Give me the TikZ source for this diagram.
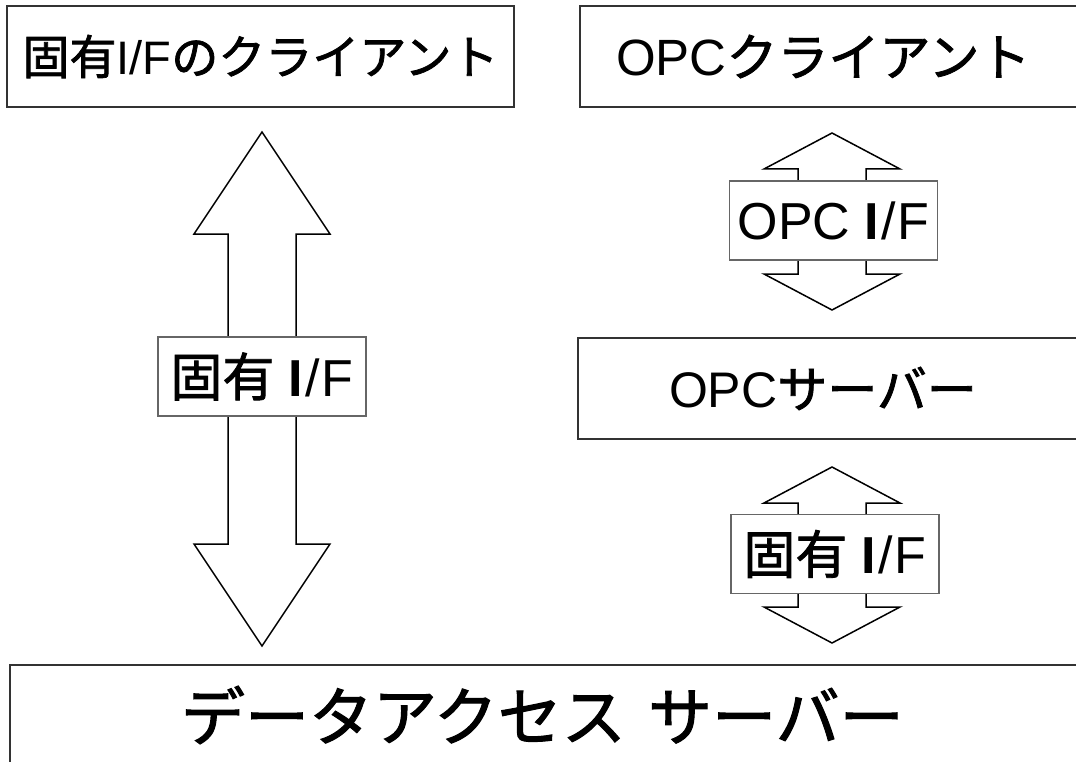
\documentclass[tikz,border=0pt]{standalone}
\usepackage{fontspec}
\setmainfont{Liberation Sans}
\newfontfamily\jp[FakeBold=1.6]{Noto Sans CJK JP}
\newcommand\fatarrow[5]{% x, tip, head base, head base, tip
  \draw[fat] (#1,#2) -- ({#1+68},#3) -- ({#1+34},#3) -- ({#1+34},#4) -- ({#1+68},#4)
    -- (#1,#5) -- ({#1-68},#4) -- ({#1-34},#4) -- ({#1-34},#3) -- ({#1-68},#3) -- cycle;}
\tikzset{
  box/.style={draw=black!80,line width=2pt,fill=white,rectangle,minimum height=101pt,inner ysep=0pt},
  boxR/.style={box,anchor=west,align=left},
  tag/.style={draw=black!60,line width=1.2pt,fill=white,minimum width=208pt,minimum height=79pt,inner sep=0pt,font=\fontsize{52}{60}\selectfont},
  fat/.style={draw=black,line width=1.5pt,fill=white,line join=miter},
}
\begin{document}
\begin{tikzpicture}[x=1pt,y=-1pt]
  \useasboundingbox (0,0) rectangle (1076,762);
  \clip (0,0) rectangle (1076,762);

  % block arrows
  \fatarrow{262}{132}{234}{544}{646}
  \fatarrow{832}{133}{169}{274}{310}
  \fatarrow{832}{467}{503}{607}{643}

  % boxes
  \node [box,minimum width=507pt,font=\fontsize{47}{56}\selectfont] (cliL) at (260.5,56.5)
    {{\jp 固有}I/F{\jp のクライアント}};
  \node [boxR,minimum width=520pt,inner xsep=36pt,text width=448pt,font=\fontsize{51}{60}\selectfont] (cliO) at (579,56.5)
    {OPC{\jp クライアント}};
  \node [boxR,minimum width=520pt,inner xsep=91pt,text width=338pt,font=\fontsize{50}{60}\selectfont] (srvO) at (577,388.5)
    {OPC{\jp サーバー}};
  \node [boxR,minimum width=1100pt,inner xsep=171pt,text width=758pt,font=\fontsize{64}{76}\selectfont] (das) at (9,715)
    {{\jp データアクセス\hspace{0.35em}サーバー}};

  % interface labels
  \node [tag] (ifL) at (262,376.5) {{\jp 固有} {\bfseries I}\kern2pt/\kern2pt F};
  \node [tag] (ifO) at (833.5,220.5) {OPC {\bfseries I}\kern2pt/\kern2pt F};
  \node [tag] (ifP) at (835,554) {{\jp 固有} {\bfseries I}\kern2pt/\kern2pt F};
\end{tikzpicture}
\end{document}
